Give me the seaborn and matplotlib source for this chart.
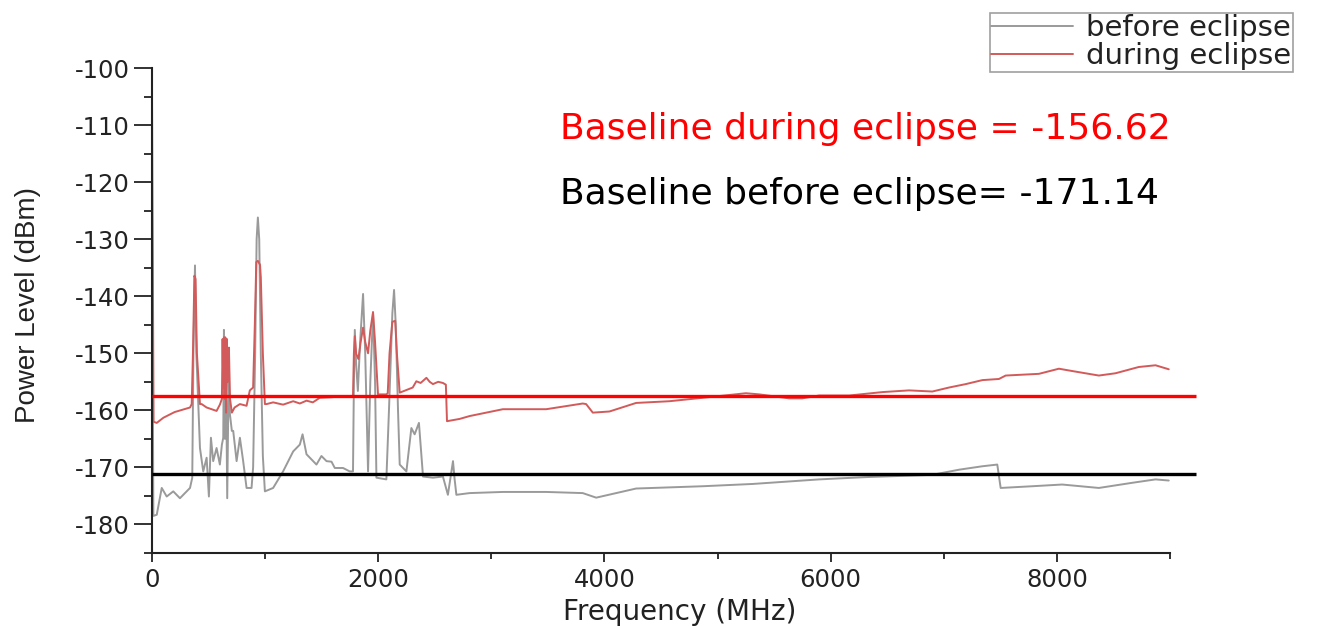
import numpy as np
import pandas as pd
import matplotlib
matplotlib.use("Agg")
import matplotlib.pyplot as plt
import seaborn as sns
from matplotlib.ticker import MultipleLocator

# ---------------- data ----------------
before_freq = [0, 12, 42, 86, 130, 188, 247, 336, 356,
               366, 380, 392, 424, 453, 483, 503, 521, 541, 571, 600,
               618, 630, 636, 645, 653, 665, 677, 689, 706, 718, 748, 777, 806, 836, 865, 880, 894,
               912, 925, 936, 948, 962, 980, 998,
               1071, 1159, 1248, 1307, 1331, 1366, 1454, 1498, 1543, 1587, 1616, 1689, 1748, 1777,
               1785, 1793, 1805, 1820, 1840, 1866, 1885, 1910, 1930, 1954, 1972, 1984,
               2072, 2095, 2125, 2140, 2155, 2175, 2190,
               2249, 2293, 2322, 2360, 2396, 2484, 2572, 2616, 2645, 2661, 2675, 2691,
               2808, 3102, 3485, 3808, 3927, 4280, 4868, 5310, 5898, 6311, 6899, 7135, 7341,
               7473, 7503, 7782, 8047, 8371, 8665, 8872, 8989]
before_level = [-124.0, -178.5, -178.3, -173.6, -175.1, -174.2, -175.4, -173.6, -171.8,
                -150.0, -134.6, -150.0, -166.6, -170.7, -168.3, -175.1, -164.8, -168.9, -166.6, -169.5,
                -166.0, -164.8, -145.9, -165.0, -150.0, -175.4, -155.0, -160.7, -163.6, -163.6, -168.9, -164.8, -168.9, -173.6, -173.6, -173.6, -170.0,
                -150.0, -130.0, -126.2, -130.0, -150.0, -168.0, -174.2,
                -173.6, -170.7, -167.2, -166.0, -164.2, -167.7, -169.5, -168.0, -168.9, -169.0, -170.1, -170.1, -170.7, -170.7,
                -155.0, -145.9, -152.0, -156.6, -148.0, -139.6, -150.0, -170.7, -155.0, -142.8, -155.0, -171.8,
                -172.1, -160.0, -143.0, -138.9, -145.0, -160.0, -169.5,
                -170.7, -163.1, -164.2, -162.2, -171.6, -171.8, -171.6, -174.8, -171.0, -168.9, -172.0, -174.8,
                -174.5, -174.3, -174.3, -174.5, -175.3, -173.7, -173.3, -172.9, -172.1, -171.7, -171.3, -170.4, -169.8,
                -169.5, -173.6, -173.3, -173.0, -173.6, -172.7, -172.1, -172.3]

during_freq = [0, 14, 42, 100, 200, 336, 351,
               362, 375, 385, 397, 424, 439,
               483, 571, 600, 618, 624, 630, 636, 642, 648, 655, 662, 670, 680, 690, 706, 730,
               777, 836, 865, 894, 909, 922, 936, 955, 962, 980, 998, 1013,
               1071, 1159, 1248, 1307, 1366, 1422, 1483, 1587, 1689, 1760, 1777,
               1785, 1793, 1805, 1825, 1845, 1866, 1885, 1910, 1930, 1954, 1972, 1998,
               2072, 2084, 2100, 2125, 2150, 2165, 2190,
               2305, 2337, 2375, 2426, 2455, 2484, 2530, 2572, 2598, 2608,
               2720, 2808, 3102, 3485, 3808, 3838, 3897, 4044, 4280, 4574, 4868, 5251, 5369,
               5634, 5748, 5898, 6163, 6457, 6693, 6899, 7046, 7194, 7341, 7488, 7547,
               7841, 8018, 8133, 8371, 8518, 8724, 8872, 8989]
during_level = [-105.0, -162.0, -162.2, -161.3, -160.3, -159.5, -158.9,
                -150.0, -136.4, -137.0, -150.0, -158.9, -158.9,
                -159.5, -160.1, -159.0, -158.0, -147.5, -156.0, -147.2, -158.0, -147.2, -160.4, -147.5, -155.0, -149.0, -158.0, -160.4, -159.5,
                -158.9, -159.2, -156.5, -156.0, -145.0, -134.0, -133.8, -134.5, -136.7, -150.0, -158.9, -158.9,
                -158.6, -159.0, -158.4, -158.8, -158.3, -158.6, -157.8, -157.7, -157.5, -157.5, -157.4,
                -150.0, -147.0, -150.1, -151.0, -148.0, -145.5, -148.0, -150.0, -146.0, -142.8, -148.0, -157.2,
                -157.2, -157.0, -150.0, -144.5, -144.3, -150.0, -156.9,
                -156.0, -154.9, -155.2, -154.3, -155.0, -155.4, -155.0, -155.2, -155.5, -161.9,
                -161.5, -161.0, -159.8, -159.8, -158.8, -158.9, -160.4, -160.2, -158.7, -158.4, -157.8, -157.0, -157.2,
                -157.9, -157.9, -157.4, -157.4, -156.8, -156.5, -156.7, -156.0, -155.4, -154.7, -154.5, -153.9,
                -153.6, -152.7, -153.1, -153.9, -153.5, -152.4, -152.1, -152.8]

series_labels = ["before eclipse", "during eclipse"]
baseline_during = -157.4
baseline_before = -171.2
baseline_texts = ["Baseline during eclipse = -156.62", "Baseline before eclipse= -171.14"]
x_ticks = [0, 2000, 4000, 6000, 8000]
y_ticks = [-180, -170, -160, -150, -140, -130, -120, -110, -100]

# ---------------- style ----------------
sns.set_style("ticks")
plt.rcParams['font.family'] = ['DejaVu Sans']
plt.rcParams['axes.unicode_minus'] = False

W, H = 1319, 626
fig = plt.figure(figsize=(W / 100, H / 100), dpi=100)
ax = fig.add_axes([152 / W, 1 - 553 / H, (1170 - 152) / W, (553 - 68) / H])

df_before = pd.DataFrame({"freq": before_freq, "level": before_level})
df_during = pd.DataFrame({"freq": during_freq, "level": during_level})

sns.lineplot(data=df_before, x="freq", y="level", ax=ax, color="#9a9a9a",
             lw=1.4, sort=False, estimator=None, label=series_labels[0])
sns.lineplot(data=df_during, x="freq", y="level", ax=ax, color="#d25a5a",
             lw=1.4, sort=False, estimator=None, label=series_labels[1])

ax.hlines(baseline_during, 0, 9230, color="#ff0000", lw=2.4, clip_on=False, zorder=5)
ax.hlines(baseline_before, 0, 9230, color="#000000", lw=2.4, clip_on=False, zorder=5)

ax.set_xlim(0, 9000)
ax.set_ylim(-185, -100)
ax.set_xticks(x_ticks)
ax.set_yticks(y_ticks)
ax.xaxis.set_minor_locator(MultipleLocator(1000))
ax.yaxis.set_minor_locator(MultipleLocator(5))

for s in ["top", "right"]:
    ax.spines[s].set_visible(False)
for s in ["left", "bottom"]:
    ax.spines[s].set_linewidth(1.5)
    ax.spines[s].set_color("#222222")

ax.tick_params(axis="y", which="major", length=13, width=1.3, labelsize=17.5, pad=3, colors="#222222")
ax.tick_params(axis="y", which="minor", length=6, width=1.3, colors="#222222")
ax.tick_params(axis="x", which="major", length=6.5, width=1.3, labelsize=17.5, pad=4, colors="#222222")
ax.tick_params(axis="x", which="minor", length=4, width=1.3, colors="#222222")

ax.set_xlabel("Frequency (MHz)", fontsize=20, color="#222222")
ax.xaxis.set_label_coords(0.518, -0.122)
ax.xaxis.label.set_va("center")
ax.set_ylabel("Power Level (dBm)", fontsize=20, color="#222222",
              family=["Liberation Sans", "DejaVu Sans"])
ax.yaxis.set_label_coords((28 - 152) / (1170 - 152), (553 - 305) / (553 - 68))
ax.yaxis.label.set_va("center")

fig.text(560 / W, 1 - 139 / H, baseline_texts[0], color="#ff0000", fontsize=26, ha="left", va="baseline")
fig.text(560 / W, 1 - 204 / H, baseline_texts[1], color="#000000", fontsize=26, ha="left", va="baseline")

leg = ax.legend(loc="upper left", bbox_to_anchor=(990 / W, 1 - 13 / H), bbox_transform=fig.transFigure,
                fontsize=21, frameon=True, fancybox=False, handlelength=2.8, handletextpad=0.45,
                borderpad=0.05, labelspacing=0.0, borderaxespad=0)
leg.get_frame().set_edgecolor("#888888")
leg.get_frame().set_linewidth(1.2)
for t in leg.get_texts():
    t.set_color("#222222")

fig.savefig("out.png", dpi=100)
